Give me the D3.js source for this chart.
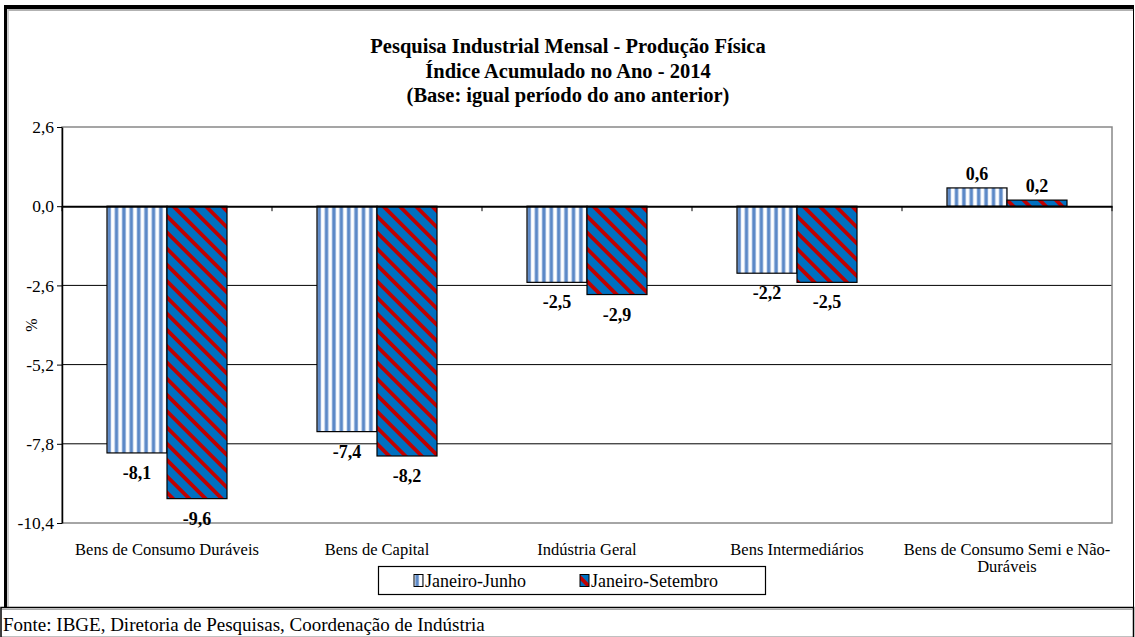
<!DOCTYPE html>
<html>
<head>
<meta charset="utf-8">
<script src="https://cdn.jsdelivr.net/npm/d3@7"></script>
<style>
  body { margin: 0; background: #fff; }
  svg text { font-family: "Liberation Serif", "DejaVu Serif", serif; }
</style>
</head>
<body>
<div id="graph"></div>
<script>
const categories = ["Bens de Consumo Duráveis", "Bens de Capital", "Indústria Geral", "Bens Intermediários", "Bens de Consumo Semi e Não-Duráveis"]
const seriesNames = ["Janeiro-Junho", "Janeiro-Setembro"]
const janJun = [-8.1, -7.4, -2.5, -2.2, 0.6]
const janSet = [-9.6, -8.2, -2.9, -2.5, 0.2]
const yTicks = [2.6, 0, -2.6, -5.2, -7.8, -10.4]
const titleLines = ["Pesquisa Industrial Mensal - Produção Física", "Índice Acumulado no Ano - 2014", "(Base: igual período do ano anterior)"]
const source = "Fonte: IBGE, Diretoria de Pesquisas, Coordenação de Indústria"

const width = 1135
const height = 637
const plot = { left: 62, right: 1112, top: 127, bottom: 523 }
const fmt = v => d3.format(".1f")(v).replace(".", ",").replace("−", "-")

const svg = d3.select('#graph')
  .append('svg')
  .attr('width', width)
  .attr('height', height)

// patterns
const defs = svg.append('defs')
const p1 = defs.append('pattern')
  .attr('id', 'vstripe')
  .attr('patternUnits', 'userSpaceOnUse')
  .attr('width', 7.4).attr('height', 10)
p1.append('rect').attr('width', 7.4).attr('height', 10).attr('fill', '#fff')
p1.append('rect').attr('x', 0.6).attr('width', 4.2).attr('height', 10).attr('fill', '#a9c1e4')
p1.append('rect').attr('x', 1.3).attr('width', 2.8).attr('height', 10).attr('fill', '#5b88c6')

const p2 = defs.append('pattern')
  .attr('id', 'diag')
  .attr('patternUnits', 'userSpaceOnUse')
  .attr('width', 11.5).attr('height', 11.5)
  .attr('patternTransform', 'rotate(-45)')
p2.append('rect').attr('width', 11.5).attr('height', 11.5).attr('fill', '#0070c0')
p2.append('rect').attr('width', 3.8).attr('height', 11.5).attr('fill', '#c00000')

const fills = ['url(#vstripe)', 'url(#diag)']

// frame
svg.append('line').attr('x1', 4).attr('x2', 1134).attr('y1', 7).attr('y2', 7).attr('stroke', '#000').attr('stroke-width', 4)
svg.append('line').attr('x1', 8).attr('x2', 1133).attr('y1', 10).attr('y2', 10).attr('stroke', '#999').attr('stroke-width', 1.5)
svg.append('line').attr('x1', 5.5).attr('x2', 5.5).attr('y1', 5).attr('y2', 607).attr('stroke', '#000').attr('stroke-width', 3)
svg.append('line').attr('x1', 8).attr('x2', 8).attr('y1', 9).attr('y2', 607).attr('stroke', '#bbb').attr('stroke-width', 1.5)
svg.append('line').attr('x1', 1133.5).attr('x2', 1133.5).attr('y1', 5).attr('y2', 637).attr('stroke', '#000').attr('stroke-width', 1)
svg.append('rect').attr('x', 1).attr('y', 607.5).attr('width', 1132.5).attr('height', 30)
  .attr('fill', 'none').attr('stroke', '#000').attr('stroke-width', 1.5)
svg.append('line').attr('x1', 2).attr('x2', 1133).attr('y1', 609.5).attr('y2', 609.5).attr('stroke', '#aaa').attr('stroke-width', 1)

// title
svg.append('g').selectAll('text')
  .data(titleLines)
  .enter()
  .append('text')
  .attr('x', 568)
  .attr('y', (d, i) => 53 + i * 24.5)
  .attr('text-anchor', 'middle')
  .attr('font-size', 20.5)
  .attr('font-weight', 'bold')
  .text(d => d)

// scales
const yScale = d3.scaleLinear().domain([-10.4, 2.6]).range([plot.bottom, plot.top])
const xScale = d3.scaleBand().domain(categories).range([plot.left, plot.right])
const xInner = d3.scaleBand().domain(seriesNames).range([0, xScale.bandwidth()]).paddingOuter(0.75)

// gridlines
svg.append('g').selectAll('line')
  .data(yTicks.filter(t => t !== 0 && t !== 2.6 && t !== -10.4))
  .enter()
  .append('line')
  .attr('x1', plot.left).attr('x2', plot.right)
  .attr('y1', d => yScale(d)).attr('y2', d => yScale(d))
  .attr('stroke', '#000').attr('stroke-width', 1)

// plot border
svg.append('rect')
  .attr('x', plot.left).attr('y', plot.top)
  .attr('width', plot.right - plot.left).attr('height', plot.bottom - plot.top)
  .attr('fill', 'none').attr('stroke', '#888').attr('stroke-width', 1.5)

// y axis
const yAxis = d3.axisLeft(yScale).tickValues(yTicks).tickFormat(fmt).tickSize(5).tickSizeOuter(0)
const yg = svg.append('g')
  .attr('transform', `translate(${plot.left},0)`)
  .call(yAxis)
yg.select('.domain').attr('stroke', '#000').attr('stroke-width', 1.5)
yg.selectAll('text').attr('font-size', 17.5).attr('fill', '#000').attr('font-family', '"Liberation Serif", serif')
yg.selectAll('.tick line').attr('stroke', '#000')

svg.append('text')
  .attr('transform', `translate(37,${yScale(-3.9)}) rotate(-90)`)
  .attr('text-anchor', 'middle')
  .attr('font-size', 16)
  .text('%')

// bars
const rows = categories.map((c, i) => [janJun[i], janSet[i]])
const groups = svg.append('g').selectAll('g')
  .data(rows)
  .enter()
  .append('g')
  .attr('transform', (d, i) => `translate(${xScale(categories[i])},0)`)

groups.selectAll('rect')
  .data(d => d.map((v, j) => ({ v, s: seriesNames[j], j })))
  .enter()
  .append('rect')
  .attr('x', d => xInner(d.s))
  .attr('width', xInner.bandwidth())
  .attr('y', d => yScale(Math.max(0, d.v)))
  .attr('height', d => Math.abs(yScale(d.v) - yScale(0)))
  .attr('fill', d => fills[d.j])
  .attr('stroke', '#000')
  .attr('stroke-width', 1.2)

groups.selectAll('text')
  .data(d => d.map((v, j) => ({ v, s: seriesNames[j] })))
  .enter()
  .append('text')
  .attr('x', d => xInner(d.s) + xInner.bandwidth() / 2)
  .attr('y', d => d.v < 0 ? yScale(d.v) + 26 : yScale(d.v) - 8)
  .attr('text-anchor', 'middle')
  .attr('font-size', 18)
  .attr('font-weight', 'bold')
  .text(d => fmt(d.v))

// zero axis
const xAxis = d3.axisBottom(xScale).tickSize(0).tickFormat('')
svg.append('g')
  .attr('transform', `translate(0,${yScale(0)})`)
  .call(xAxis)
  .select('.domain').attr('stroke', '#000').attr('stroke-width', 2)

svg.append('g').selectAll('line')
  .data(categories.concat(['end']))
  .enter()
  .append('line')
  .attr('x1', (d, i) => plot.left + i * xScale.step())
  .attr('x2', (d, i) => plot.left + i * xScale.step())
  .attr('y1', yScale(0)).attr('y2', yScale(0) + 5)
  .attr('stroke', '#000')

// category labels
const catLabels = svg.append('g').selectAll('text')
  .data(categories)
  .enter()
  .append('text')
  .attr('x', d => xScale(d) + xScale.bandwidth() / 2)
  .attr('y', 555)
  .attr('text-anchor', 'middle')
  .attr('font-size', 16.5)
catLabels.each(function (d) {
  const parts = d === categories[4] ? ["Bens de Consumo Semi e Não-", "Duráveis"] : [d]
  d3.select(this).selectAll('tspan')
    .data(parts)
    .enter()
    .append('tspan')
    .attr('x', xScale(d) + xScale.bandwidth() / 2)
    .attr('dy', (p, k) => k === 0 ? 0 : 17)
    .text(p => p)
})

// legend
const legend = svg.append('g').attr('id', 'legend')
legend.append('rect')
  .attr('x', 378.5).attr('y', 566.5).attr('width', 387).attr('height', 28)
  .attr('fill', '#fff').attr('stroke', '#000').attr('stroke-width', 1.2)
const legendX = [414, 580]
seriesNames.forEach((s, i) => {
  legend.append('rect')
    .attr('x', legendX[i]).attr('y', 574.5).attr('width', 9).attr('height', 12)
    .attr('fill', fills[i]).attr('stroke', '#000').attr('stroke-width', 1)
  legend.append('text')
    .attr('x', legendX[i] + 11).attr('y', 587)
    .attr('font-size', 18)
    .text(s)
})

// source
svg.append('text')
  .attr('x', 3).attr('y', 631)
  .attr('font-size', 19)
  .text(source)
</script>
</body>
</html>
